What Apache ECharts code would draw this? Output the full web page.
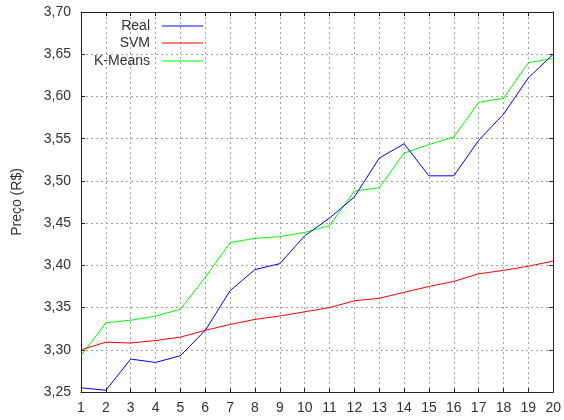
<!DOCTYPE html>
<html>
<head>
<meta charset="utf-8">
<script src="https://cdn.jsdelivr.net/npm/echarts@6/dist/echarts.min.js"></script>
<style>html,body{margin:0;padding:0;background:#fff}#c{width:564px;height:420px}</style>
</head>
<body>
<div id="c"></div>
<script>
var xValues = [1,2,3,4,5,6,7,8,9,10,11,12,13,14,15,16,17,18,19,20];
var realValues = [3.255,3.252,3.289,3.285,3.293,3.323,3.370,3.395,3.402,3.435,3.456,3.481,3.527,3.544,3.506,3.506,3.548,3.579,3.622,3.650];
var svmValues = [3.300,3.309,3.308,3.311,3.315,3.323,3.330,3.336,3.340,3.345,3.350,3.358,3.361,3.368,3.375,3.381,3.390,3.394,3.399,3.405];
var kmeansValues = [3.293,3.332,3.335,3.340,3.348,3.386,3.427,3.432,3.434,3.439,3.447,3.488,3.492,3.533,3.543,3.552,3.593,3.598,3.640,3.645];
var seriesNames = ['Real','SVM','K-Means'];
var seriesColors = ['#0000ff','#ff0000','#00ff00'];

var font = '"Liberation Sans", Arial, sans-serif';
function pairs(v){ return xValues.map(function(x,i){ return [x, v[i]]; }); }
var allData = [realValues, svmValues, kmeansValues];

var chart = echarts.init(document.getElementById('c'), null, {renderer:'canvas'});
var gridLine = {show:true, lineStyle:{color:'#a0a0a0', type:[2,3], width:1}};
var frameLine = {show:true, lineStyle:{color:'#222', width:1}};
var tickIn = {show:true, inside:true, length:4, lineStyle:{color:'#222'}};
var legendTops = [19, 36, 54];

chart.setOption({
  animation:false,
  backgroundColor:'#fff',
  grid:{left:81, right:9, top:12, bottom:28, containLabel:false},
  legend: seriesNames.map(function(n,i){
    return {
      data:[n], orient:'vertical', align:'right', right:361, top:legendTops[i],
      padding:0, icon:'rect', itemWidth:41, itemHeight:1,
      selectedMode:false,
      itemStyle:{color:seriesColors[i]},
      textStyle:{fontFamily:font, fontSize:14, color:'#333', padding:[0,7,0,0]}
    };
  }),
  xAxis:[{
    type:'value', min:1, max:20, interval:1,
    axisLine:frameLine, axisTick:tickIn, splitLine:gridLine,
    axisLabel:{fontFamily:font, fontSize:14, color:'#333', margin:9}
  },{
    type:'value', position:'top', min:1, max:20, interval:1,
    axisLine:frameLine, axisTick:tickIn, splitLine:{show:false}, axisLabel:{show:false}
  }],
  yAxis:[{
    type:'value', min:3.25, max:3.70, interval:0.05,
    axisLine:frameLine, axisTick:tickIn, splitLine:gridLine,
    axisLabel:{fontFamily:font, fontSize:14, color:'#333', margin:10,
      formatter:function(v){ return v.toFixed(2).replace('.', ','); }},
    name:'Preço (R$)', nameLocation:'middle', nameGap:57,
    nameTextStyle:{fontFamily:font, fontSize:14, color:'#333'}
  },{
    type:'value', position:'right', min:3.25, max:3.70, interval:0.05,
    axisLine:frameLine, axisTick:tickIn, splitLine:{show:false}, axisLabel:{show:false}
  }],
  series: seriesNames.map(function(n,i){
    return {
      name:n, type:'line', data:pairs(allData[i]), showSymbol:false, symbol:'none',
      color:seriesColors[i], lineStyle:{color:seriesColors[i], width:1}, z:3 - i
    };
  })
});
</script>
</body>
</html>
